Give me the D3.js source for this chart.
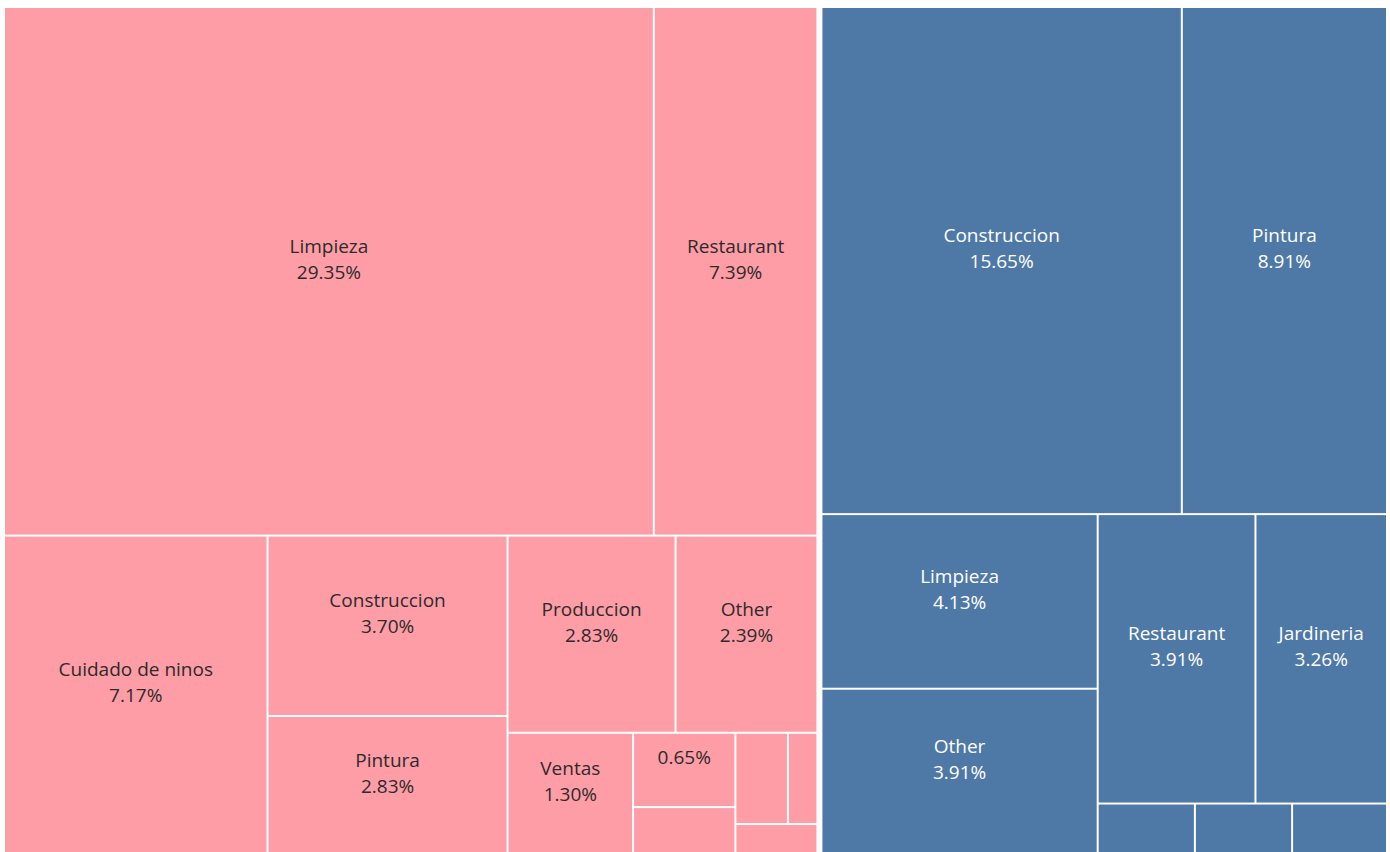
<!DOCTYPE html>
<html>
<head>
<meta charset="utf-8">
<script src="https://cdn.jsdelivr.net/npm/d3@7"></script>
<style>
  body { margin: 0; background: #fff; overflow: hidden; }
  svg text { font-family: "Open Sans", sans-serif; font-size: 19px; }
</style>
</head>
<body>
<div id="chart"></div>
<script>
// two groups, each with its jobs and share of the total (%)
const groups = ["Mujer", "Hombre"];
const mujerJobs = ["Limpieza", "Restaurant", "Cuidado de ninos", "Construccion", "Pintura", "Produccion",
    "Other", "Ventas", "Cuidado de ancianos", "Jardineria", "Oficina", "Fabrica", "Almacen"];
const mujerPct = [29.35, 7.39, 7.17, 3.70, 2.83, 2.83, 2.39, 1.30, 0.65, 0.41, 0.41, 0.23, 0.21];
const hombreJobs = ["Construccion", "Pintura", "Limpieza", "Other", "Restaurant", "Jardineria",
    "Produccion", "Ventas", "Mantenimiento"];
const hombrePct = [15.65, 8.91, 4.13, 3.91, 3.91, 3.26, 0.42, 0.42, 0.41];

const groupColors = ["#ff9da7", "#4e79a7"];
const labelColors = ["#2b2b2b", "#ffffff"];

const margin = { top: 8, right: 4, bottom: -1, left: 5 },
    width = 1390 - margin.left - margin.right,
    height = 852 - margin.top - margin.bottom;

const data = {
    name: "root",
    children: [
        { name: groups[0], children: mujerJobs.map((d, i) => ({ name: d, value: mujerPct[i] })) },
        { name: groups[1], children: hombreJobs.map((d, i) => ({ name: d, value: hombrePct[i] })) }
    ]
};

const root = d3.hierarchy(data)
    .sum(d => d.value || 0)
    .sort((a, b) => b.value - a.value);

d3.treemap()
    .tile(d3.treemapSquarify)
    .size([width, height])
    .paddingInner(d => d.depth === 0 ? 6 : 2)(root);

const color = d3.scaleOrdinal().domain(groups).range(groupColors);
const textColor = d3.scaleOrdinal().domain(groups).range(labelColors);

const svg = d3.select("#chart")
    .append("svg")
    .attr("width", 1390)
    .attr("height", 852)
    .append("g")
    .attr("transform", `translate(${margin.left},${margin.top})`);

const cell = svg.selectAll("g.cell")
    .data(root.leaves())
    .join("g")
    .attr("class", "cell");

cell.append("rect")
    .attr("x", d => d.x0)
    .attr("y", d => d.y0)
    .attr("width", d => d.x1 - d.x0)
    .attr("height", d => d.y1 - d.y0)
    .attr("fill", d => color(d.parent.data.name));

// measure text to decide what fits, like tableau hides labels
const probe = svg.append("text").attr("visibility", "hidden");
const textWidth = s => { probe.text(s); return probe.node().getComputedTextLength(); };

const fmt = v => v.toFixed(2) + "%";

cell.each(function(d) {
    const w = d.x1 - d.x0, h = d.y1 - d.y0;
    const cx = (d.x0 + d.x1) / 2, cy = (d.y0 + d.y1) / 2;
    const g = d3.select(this);
    const fill = textColor(d.parent.data.name);
    const pct = fmt(d.value);
    if (h < 60 || textWidth(pct) + 10 > w) return;

    if (textWidth(d.data.name) + 10 <= w) {
        g.append("text")
            .attr("x", cx).attr("y", cy - 18.5)
            .attr("text-anchor", "middle")
            .attr("fill", fill)
            .text(d.data.name);
        g.append("text")
            .attr("x", cx).attr("y", cy + 7.5)
            .attr("text-anchor", "middle")
            .attr("fill", fill)
            .text(pct);
    } else {
        g.append("text")
            .attr("x", cx).attr("y", cy - 6)
            .attr("text-anchor", "middle")
            .attr("fill", fill)
            .text(pct);
    }
});

probe.remove();
</script>
</body>
</html>
